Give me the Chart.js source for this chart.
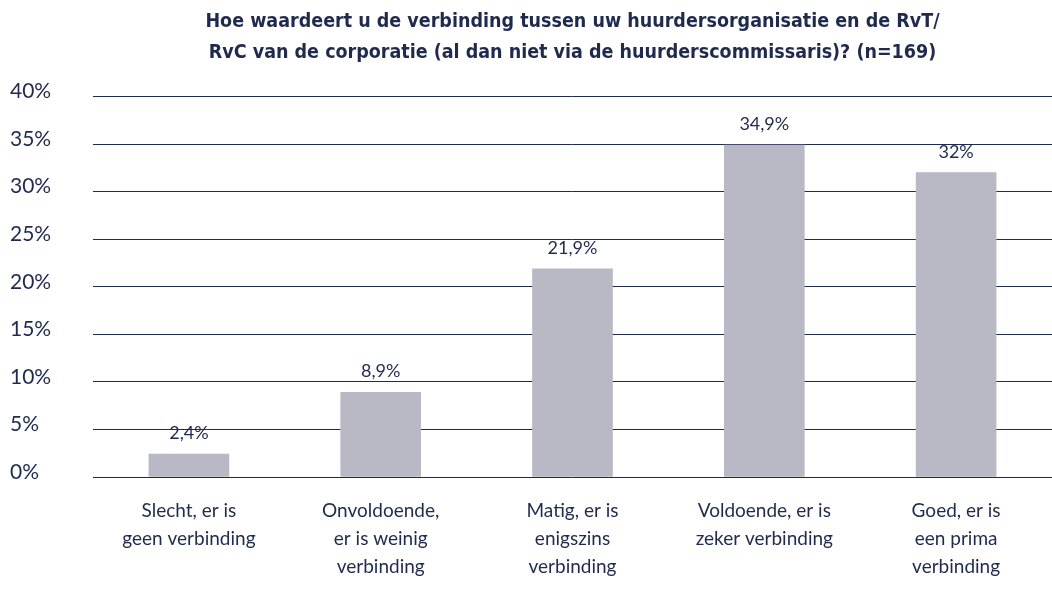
<!DOCTYPE html>
<html>
<head>
<meta charset="utf-8">
<script src="https://cdn.jsdelivr.net/npm/chart.js@4"></script>
<style>
  html, body { margin: 0; padding: 0; background: #ffffff; }
  #wrap { width: 1052px; height: 590px; position: relative; }
</style>
</head>
<body>
<div id="wrap"><canvas id="c" width="1052" height="590"></canvas></div>
<script>
const titleLines = [
  "Hoe waardeert u de verbinding tussen uw huurdersorganisatie en de RvT/",
  "RvC van de corporatie (al dan niet via de huurderscommissaris)? (n=169)"
];
const categories = [
  ["Slecht, er is", "geen verbinding"],
  ["Onvoldoende,", "er is weinig", "verbinding"],
  ["Matig, er is", "enigszins", "verbinding"],
  ["Voldoende, er is", "zeker verbinding"],
  ["Goed, er is", "een prima", "verbinding"]
];
const values = [2.4, 8.9, 21.9, 34.9, 32];
const yTicks = [0, 5, 10, 15, 20, 25, 30, 35, 40];

const navy = "#1f2a4d";
const barColor = "#b9b9c6";

const valueLabels = {
  id: "valueLabels",
  afterDatasetsDraw(chart) {
    const ctx = chart.ctx;
    const meta = chart.getDatasetMeta(0);
    ctx.save();
    ctx.fillStyle = navy;
    ctx.font = "18px Lato";
    ctx.textAlign = "center";
    ctx.textBaseline = "middle";
    meta.data.forEach((bar, i) => {
      const txt = String(values[i]).replace(".", ",") + "%";
      ctx.fillText(txt, bar.x, bar.y - 21);
    });
    ctx.restore();
  }
};

new Chart(document.getElementById("c"), {
  type: "bar",
  data: {
    labels: categories,
    datasets: [{
      data: values,
      backgroundColor: barColor,
      borderWidth: 0,
      barThickness: 80
    }]
  },
  options: {
    responsive: false,
    animation: false,
    layout: { padding: { left: 10, right: 0, top: 7, bottom: 0 } },
    plugins: {
      legend: { display: false },
      tooltip: { enabled: false },
      title: {
        display: true,
        text: titleLines,
        fullSize: false,
        color: navy,
        font: { family: "'DejaVu Sans Condensed', sans-serif", size: 19.5, weight: "bold", lineHeight: 1.58 },
        padding: { top: 0, bottom: 28 }
      }
    },
    scales: {
      x: {
        grid: { display: false },
        border: { display: false },
        afterFit(scale) { scale.height = 113; },
        ticks: {
          color: navy,
          font: { family: "Lato", size: 19, lineHeight: 1.48 },
          padding: 12,
          maxRotation: 0,
          autoSkip: false
        }
      },
      y: {
        min: 0,
        max: 40,
        afterBuildTicks(axis) { axis.ticks = yTicks.map(v => ({ value: v })); },
        afterFit(scale) { scale.width = 83; },
        grid: { color: navy, lineWidth: 1, drawTicks: false },
        border: { display: false },
        ticks: {
          color: navy,
          font: { family: "Lato", size: 21 },
          padding: 4,
          crossAlign: "far",
          labelOffset: -5,
          callback: v => v + "%"
        }
      }
    }
  },
  plugins: [valueLabels]
});
</script>
</body>
</html>
